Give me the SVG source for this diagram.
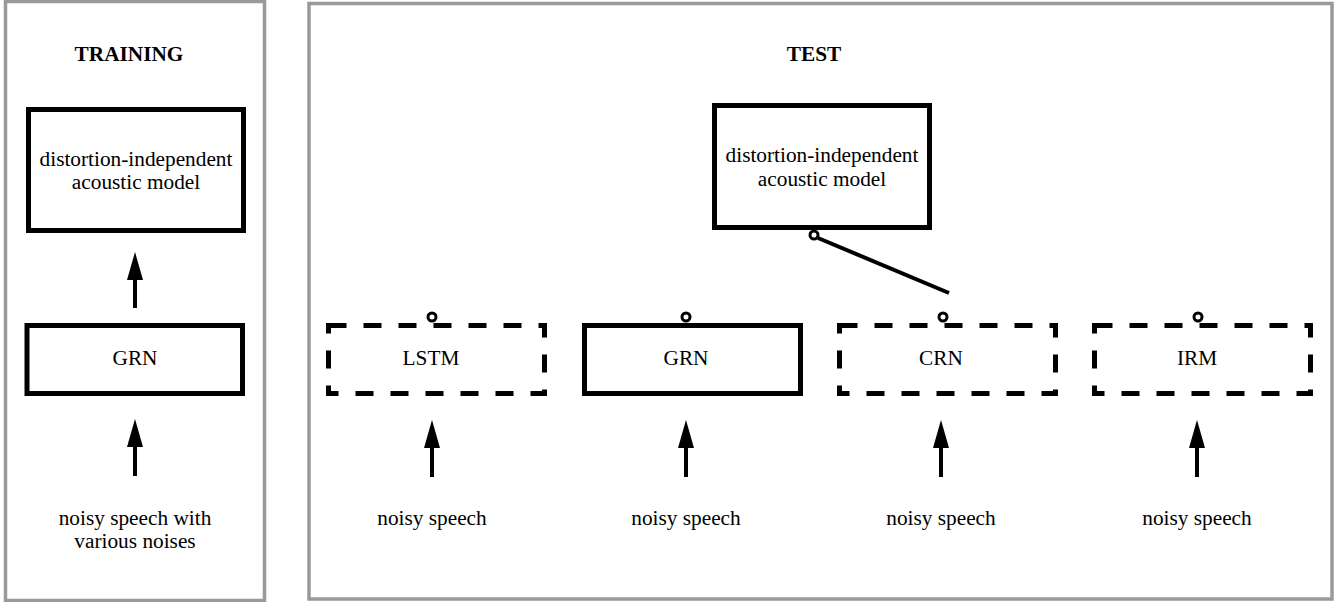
<svg xmlns="http://www.w3.org/2000/svg" width="1343" height="602" viewBox="0 0 1343 602">
<defs>
<style>
.panel{fill:none;stroke:#999;stroke-width:3.5}
.box{fill:#fff;stroke:#000;stroke-width:5}
.dash{fill:#fff;stroke:#000;stroke-width:5;stroke-dasharray:18 17}
.t{font-family:"Liberation Serif","Times New Roman",serif;font-size:21.3px;fill:#000;text-anchor:middle}
.title{font-weight:bold}
.arrow{stroke:#000;stroke-width:4;fill:none;marker-end:url(#ah)}
.port{fill:#fff;stroke:#000;stroke-width:3}
.link{stroke:#000;stroke-width:4;fill:none}
</style>
<marker id="ah" markerUnits="userSpaceOnUse" markerWidth="28" markerHeight="16" viewBox="0 0 28 16" refX="0" refY="8" orient="auto">
<path d="M0,0 L28,8 L0,16 z" fill="#000"/>
</marker>
</defs>
<rect id="panel-training" class="panel" x="5.5" y="1.5" width="259" height="599"/>
<rect id="panel-test" class="panel" x="309" y="3.5" width="1023" height="595.5"/>
<text class="t title" x="129" y="61">TRAINING</text>
<text class="t title" x="814" y="61">TEST</text>

<g id="connectors">
<line class="arrow" x1="135" y1="308" x2="135" y2="280"/>
<line class="arrow" x1="135" y1="476" x2="135" y2="447"/>
<line class="arrow" x1="432" y1="477" x2="432" y2="448"/>
<line class="arrow" x1="686" y1="477" x2="686" y2="448"/>
<line class="arrow" x1="941" y1="477" x2="941" y2="448"/>
<line class="arrow" x1="1197" y1="477" x2="1197" y2="448"/>
<line class="link" x1="818" y1="238" x2="949" y2="293"/>
</g>

<g id="train-model">
<rect class="box" x="28.5" y="109.5" width="215" height="121"/>
<text class="t" x="136" y="166">distortion-independent</text>
<text class="t" x="136" y="189">acoustic model</text>
</g>
<g id="train-grn">
<rect class="box" x="27" y="325.5" width="215.5" height="68"/>
<text class="t" x="135" y="365">GRN</text>
</g>
<text id="train-input" class="t"><tspan x="135" y="525">noisy speech with</tspan><tspan x="135" y="548">various noises</tspan></text>

<g id="test-model">
<rect class="box" x="714.5" y="105.5" width="215" height="122"/>
<text class="t" x="822" y="162">distortion-independent</text>
<text class="t" x="822" y="186">acoustic model</text>
<circle class="port" cx="814" cy="235" r="4"/>
</g>

<g id="lstm">
<rect class="dash" x="328.5" y="325.5" width="216" height="68"/>
<text class="t" x="431" y="365">LSTM</text>
<circle class="port" cx="432" cy="317" r="4"/>
</g>
<g id="grn">
<rect class="box" x="584.5" y="325.5" width="216" height="68"/>
<text class="t" x="686" y="365">GRN</text>
<circle class="port" cx="686" cy="317" r="4"/>
</g>
<g id="crn">
<rect class="dash" x="839.5" y="325.5" width="216" height="68"/>
<text class="t" x="941" y="365">CRN</text>
<circle class="port" cx="943" cy="317" r="4"/>
</g>
<g id="irm">
<rect class="dash" x="1094.5" y="325.5" width="216" height="68"/>
<text class="t" x="1197" y="365">IRM</text>
<circle class="port" cx="1198" cy="317" r="4"/>
</g>

<text id="in-lstm" class="t" x="432" y="525">noisy speech</text>
<text id="in-grn" class="t" x="686" y="525">noisy speech</text>
<text id="in-crn" class="t" x="941" y="525">noisy speech</text>
<text id="in-irm" class="t" x="1197" y="525">noisy speech</text>
</svg>
